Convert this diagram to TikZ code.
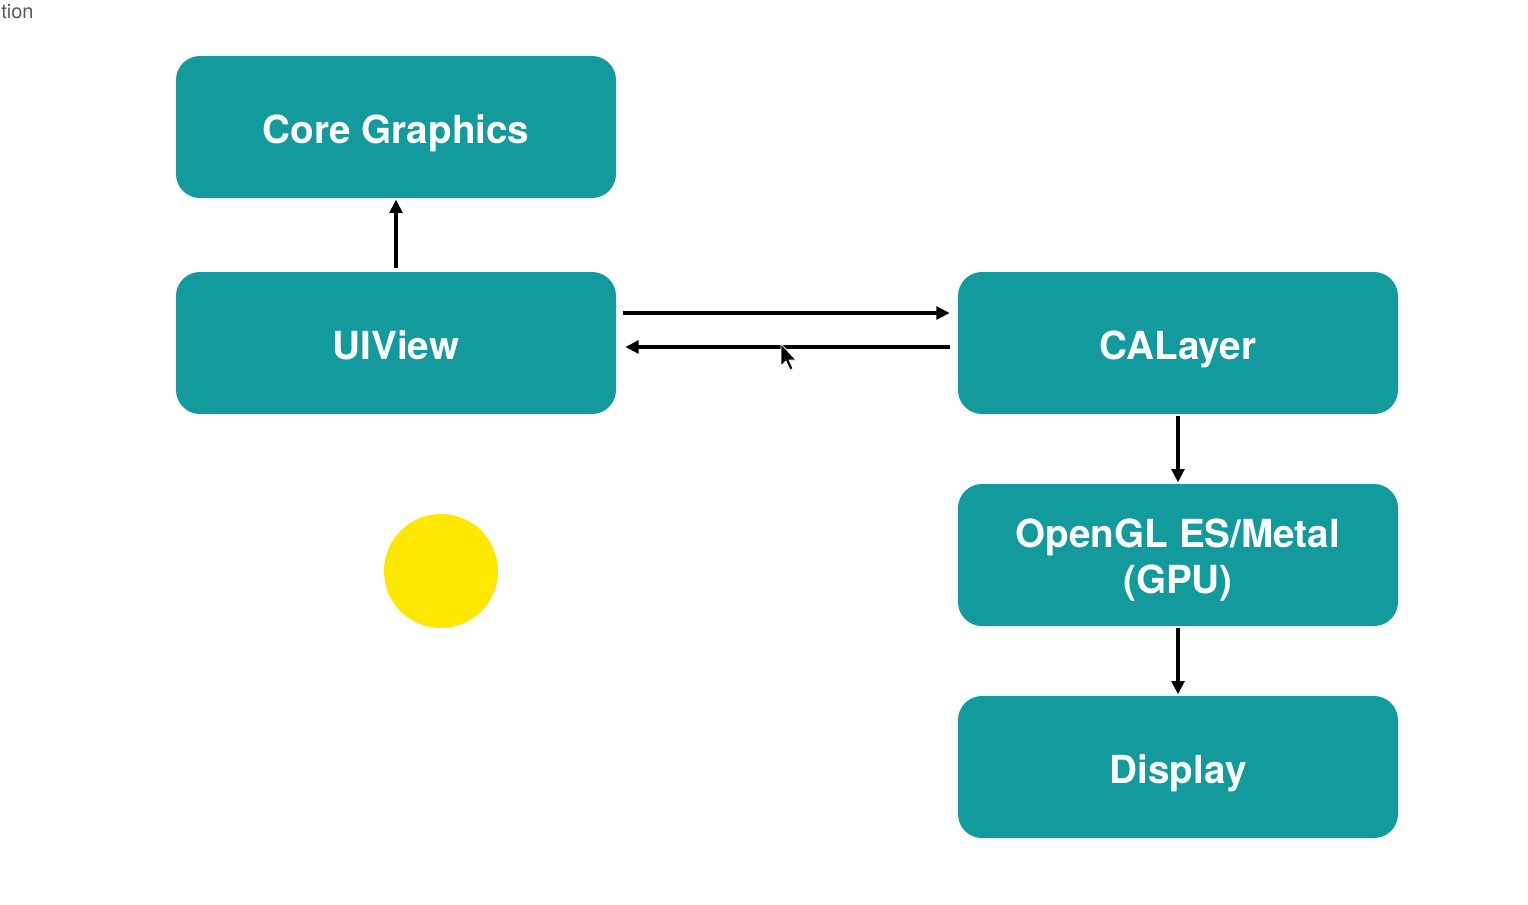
\documentclass[tikz,border=0pt]{standalone}
\usepackage{fontspec}
\setmainfont{TeX Gyre Heros}
\usetikzlibrary{arrows.meta}
\definecolor{teal1}{HTML}{139A9C}
\definecolor{sun}{HTML}{FFE800}
\begin{document}
\begin{tikzpicture}[x=0.75pt,y=-0.75pt,
  box/.style={fill=teal1, rounded corners=18pt, minimum width=330pt, minimum height=106.5pt,
    inner sep=0pt, text=white, font=\fontsize{29}{35}\selectfont\bfseries, align=center,
    text height=24pt, text depth=0pt},
  link/.style={line width=2.8pt, -{Triangle[length=10pt,width=9.5pt]}}]
\useasboundingbox (0,0) rectangle (1528,904);
\fill[white] (0,0) rectangle (1528,904);
\node[anchor=west, inner sep=0pt, text=black!65, font=\fontsize{15}{17}\selectfont] (corner) at (1,12) {tion};
\node[box] (cg) at (396,127) {Core Graphics};
\node[box] (uiv) at (396,343) {UIView};
\node[box] (cal) at (1178,343) {CALayer};
\node[box, text height=58pt] (gl) at (1178,555) {OpenGL ES/Metal\\(GPU)};
\node[box] (disp) at (1178,767) {Display};
\draw[link] ([yshift=3pt]uiv.north) -- ([yshift=-1pt]cg.south);
\draw[link] ([shift={(7,-30)}]uiv.east) -- ([shift={(-8,-30)}]cal.west);
\draw[link] ([shift={(-8,4)}]cal.west) -- ([shift={(9,4)}]uiv.east);
\draw[link] ([yshift=-1pt]cal.south) -- ([yshift=1pt]gl.north);
\draw[link] ([yshift=-1pt]gl.south) -- ([yshift=1pt]disp.north);
\fill[sun] (441,571) circle (57);
\draw[fill=black, draw=white, line width=0.6pt, line join=round] (781,344) coordinate (cur)
  -- ++(0,22) -- ++(5,-5) -- ++(4,9) -- ++(3,-1.5) -- ++(-4,-8.5) -- ++(7,0) -- cycle;
\end{tikzpicture}
\end{document}
